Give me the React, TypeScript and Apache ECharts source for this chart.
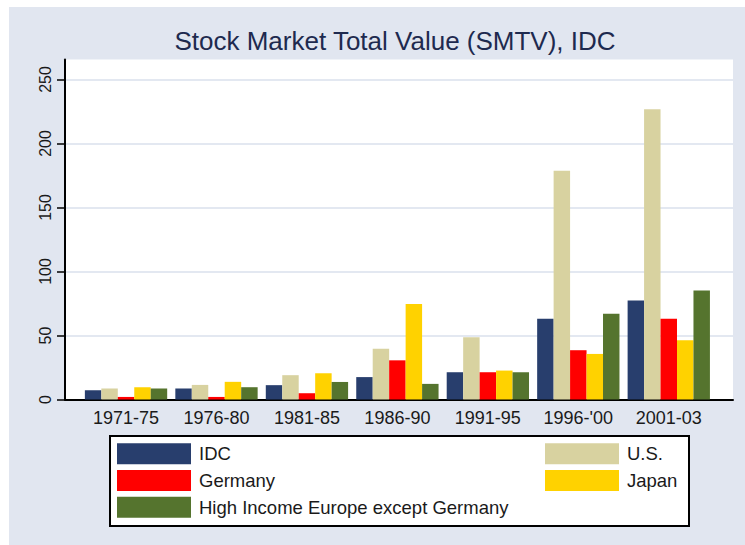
import React, { useEffect, useRef } from "react";
import * as echarts from "echarts";

const categories = ["1971-75", "1976-80", "1981-85", "1986-90", "1991-95", "1996-'00", "2001-03"];
const idc = [7.3, 8.6, 11.2, 17.5, 21.3, 63, 77.3];
const us = [8.6, 11.4, 19, 39.6, 48.7, 178.6, 226.8];
const germany = [2, 2, 4.9, 30.6, 21.3, 38.5, 63];
const japan = [9.6, 13.8, 20.5, 74.7, 22.6, 35.6, 46.3];
const hie = [8.6, 9.6, 13.7, 12.2, 21.3, 66.9, 85.2];
const yTicks = [0, 50, 100, 150, 200, 250];

const seriesNames = ["IDC", "U.S.", "Germany", "Japan", "High Income Europe except Germany"];
const seriesData = [idc, us, germany, japan, hie];
const colors = ["#283e6d", "#d8d2a0", "#ff0000", "#ffd200", "#55742e"];

const FONT = "'Liberation Sans', Arial, sans-serif";

export default function App() {
  const ref = useRef<HTMLDivElement>(null);
  useEffect(() => {
    if (!ref.current) return;
    const chart = echarts.init(ref.current, null, { renderer: "svg" });
    const YMAX = 265.6;
    chart.setOption({
      animation: false,
      backgroundColor: "#e1e6f0",
      graphic: [
        {
          type: "text",
          x: 386,
          y: 34,
          z: 5,
          style: {
            text: "Stock Market Total Value (SMTV), IDC",
            font: `26px ${FONT}`,
            fill: "#1e2a4f",
            textAlign: "center",
            textVerticalAlign: "middle",
          },
        },
        {
          type: "rect",
          z: 1,
          shape: { x: 101, y: 429, width: 579, height: 90 },
          style: { fill: "#ffffff", stroke: "#000000", lineWidth: 2 },
        },
      ],
      grid: [
        { left: 56, right: 12, top: 52.5, bottom: 145.5, show: true, backgroundColor: "#ffffff", borderWidth: 0 },
        { left: 71.8, right: 31, top: 52.5, bottom: 145.5 },
      ],
      xAxis: [
        {
          gridIndex: 0,
          type: "value",
          min: 0,
          max: 1,
          axisLine: { show: true, lineStyle: { color: "#000", width: 2 } },
          axisTick: { show: false },
          axisLabel: { show: false },
          splitLine: { show: false },
        },
        {
          gridIndex: 1,
          type: "category",
          data: categories,
          axisLine: { show: false },
          axisTick: { show: false },
          axisLabel: { fontSize: 18, color: "#1a1a1a", fontFamily: FONT, margin: 9 },
        },
      ],
      yAxis: [
        {
          gridIndex: 0,
          type: "value",
          min: 0,
          max: YMAX,
          interval: 50,
          axisLine: { show: true, lineStyle: { color: "#000", width: 2 } },
          axisTick: { show: true, length: 8, lineStyle: { color: "#000", width: 1.5 }, customValues: yTicks },
          axisLabel: {
            rotate: 90,
            fontSize: 16,
            color: "#1a1a1a",
            fontFamily: FONT,
            margin: 12,
            customValues: yTicks,
          },
          splitLine: { show: true, lineStyle: { color: "#e3e8f1", width: 2 } },
        },
        {
          gridIndex: 1,
          type: "value",
          min: 0,
          max: YMAX,
          show: false,
          splitLine: { show: false },
        },
      ],
      legend: [
        {
          data: ["IDC", "Germany", "High Income Europe except Germany"],
          orient: "vertical",
          left: 108,
          top: 436.3,
          padding: 0,
          itemWidth: 74,
          itemHeight: 21,
          itemGap: 5.7,
          icon: "rect",
          selectedMode: false,
          textStyle: { fontSize: 18.5, color: "#1a1a1a", fontFamily: FONT, padding: [0, 0, 0, 3] },
        },
        {
          data: ["U.S.", "Japan"],
          orient: "vertical",
          left: 536,
          top: 436.3,
          padding: 0,
          itemWidth: 74,
          itemHeight: 21,
          itemGap: 5.7,
          icon: "rect",
          selectedMode: false,
          textStyle: { fontSize: 18.5, color: "#1a1a1a", fontFamily: FONT, padding: [0, 0, 0, 3] },
        },
      ],
      series: seriesNames.map((name, i) => ({
        name,
        type: "bar",
        xAxisIndex: 1,
        yAxisIndex: 1,
        data: seriesData[i],
        barGap: "0%",
        barCategoryGap: "9%",
        itemStyle: { color: colors[i] },
      })),
    });
    return () => chart.dispose();
  }, []);
  return (
    <div style={{ position: "fixed", left: 0, top: 0, width: 745, height: 545, background: "#ffffff" }}>
      <div ref={ref} style={{ position: "absolute", left: 9, top: 7, width: 736, height: 538 }} />
    </div>
  );
}
